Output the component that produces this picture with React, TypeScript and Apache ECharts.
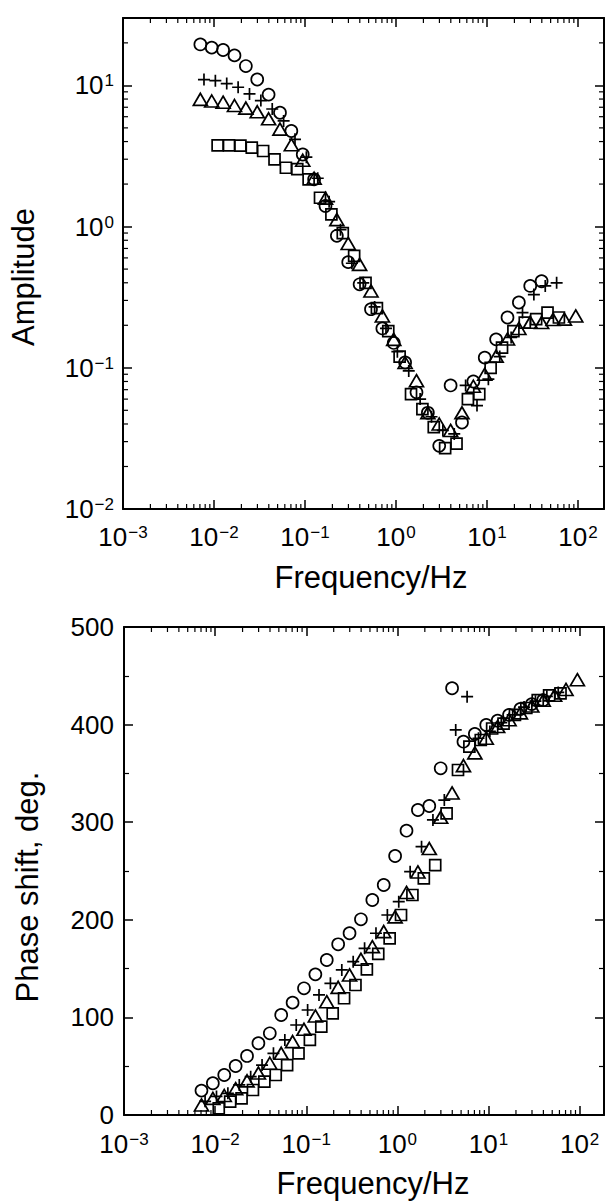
import React, { useEffect, useRef } from 'react';
import * as echarts from 'echarts';

// ---- Data ----
// frequency grids (Hz)
const freqCircle = [0.00708, 0.00944, 0.01259, 0.01679, 0.02239, 0.02985, 0.03981, 0.05309, 0.07079, 0.09441, 0.1259, 0.1679, 0.2239, 0.2985, 0.3981, 0.5309, 0.7079, 0.9441, 1.259, 1.679, 2.239, 2.985, 3.981, 5.309, 7.079, 9.441, 12.59, 16.79, 22.39, 29.85, 39.81, 53.09, 70.79, 94.41];
const freqPlus = [0.00776, 0.01035, 0.0138, 0.01841, 0.02455, 0.03273, 0.04365, 0.05821, 0.07762, 0.1035, 0.138, 0.1841, 0.2455, 0.3273, 0.4365, 0.5821, 0.7762, 1.035, 1.38, 1.841, 2.455, 3.273, 4.365, 5.821, 7.762, 10.35, 13.8, 18.41, 24.55, 32.73, 43.65, 58.21];
const freqSquare = [0.01096, 0.01462, 0.0195, 0.026, 0.03467, 0.04624, 0.06166, 0.08222, 0.1096, 0.1462, 0.195, 0.26, 0.3467, 0.4624, 0.6166, 0.8222, 1.096, 1.462, 1.95, 2.6, 3.467, 4.624, 6.166, 8.222, 10.96, 14.62, 19.5, 26.0, 34.67, 46.24, 61.66];

// amplitude
const ampCircle = [19.5, 18.5, 17.8, 16.3, 13.7, 11.0, 8.6, 6.4, 4.75, 3.24, 2.16, 1.4, 0.86, 0.56, 0.39, 0.26, 0.19, 0.15, 0.109, 0.067, 0.048, 0.028, 0.075, 0.041, 0.08, 0.118, 0.159, 0.227, 0.29, 0.38, 0.41];
const ampPlus = [11.0, 10.8, 10.3, 9.7, 8.7, 7.8, 6.8, 5.6, 4.15, 3.1, 2.2, 1.5, 0.95, 0.55, 0.4, 0.27, 0.19, 0.13, 0.095, 0.06, 0.045, 0.036, 0.034, 0.075, 0.054, 0.083, 0.12, 0.164, 0.246, 0.33, 0.38, 0.4];
const ampTriangle = [7.96, 7.75, 7.6, 7.2, 6.9, 6.5, 5.8, 4.9, 3.8, 2.95, 2.2, 1.59, 1.12, 0.76, 0.54, 0.35, 0.233, 0.159, 0.109, 0.081, 0.048, 0.04, 0.036, 0.048, 0.074, 0.09, 0.121, 0.16, 0.19, 0.21, 0.209, 0.22, 0.221, 0.233];
const ampSquare = [3.76, 3.76, 3.74, 3.62, 3.43, 2.99, 2.61, 2.55, 2.16, 1.6, 1.22, 0.9, 0.62, 0.4, 0.265, 0.182, 0.12, 0.065, 0.051, 0.038, 0.027, 0.029, 0.06, 0.065, 0.1, 0.139, 0.182, 0.209, 0.221, 0.246, 0.227];

// phase shift (deg.)
const phaseCircle = [25.0, 32.5, 41.0, 50.2, 60.5, 73.5, 83.7, 102.5, 115.1, 129.8, 144.1, 158.8, 174.9, 186.2, 200.5, 220.3, 235.7, 265.4, 291.3, 312.5, 316.6, 355.2, 437.2, 382.5, 390.4, 399.6, 404, 410, 416, 421, 425];
const phasePlus = [14, 19, 22.2, 30.8, 39.3, 51.2, 63.2, 76.9, 92.2, 107.6, 123, 134.9, 148.6, 157.1, 170.8, 186.2, 204.9, 218.6, 249.3, 274.9, 302.3, 322.7, 394.5, 428.6, 386, 393, 402, 410, 418, 424, 429, 433];
const phaseTriangle = [10.3, 17, 20, 27, 35, 43, 53, 63.2, 75.2, 87.8, 101.5, 116.1, 130.8, 143.5, 159.5, 172.5, 187.9, 203, 228, 249, 273, 305, 330, 358, 371, 386, 398, 405, 412, 419, 425, 430, 436, 446];
const phaseSquare = [6.8, 13.7, 17.1, 25.6, 34.2, 41.0, 51.2, 63.2, 76.9, 90.5, 104.2, 119.6, 133.2, 149.3, 165.0, 181.0, 204.9, 225.4, 242.5, 256.1, 309.1, 353.5, 377.4, 384.2, 396, 401, 410, 417, 425, 430, 432];

// axis ranges
const X_MIN = 0.001;
const X_MAX_TOP = 193;
const X_MAX_BOT = 185;
const AMP_MIN = 0.01;
const AMP_MAX = 30;
const PH_MIN = 0;
const PH_MAX = 500;
const PH_INTERVAL = 100;

const FONT = '"Liberation Sans", Arial, Helvetica, sans-serif';
const PLUS = 'path://M5,0L5,10M0,5L10,5';

function pairs(xs: number[], ys: number[]) {
  return ys.map((y, i) => [xs[i], y]);
}

function minorLog(lo: number, hi: number) {
  const out: number[] = [];
  for (let n = Math.floor(Math.log10(lo)); n <= Math.ceil(Math.log10(hi)); n++) {
    for (let m = 2; m <= 9; m++) {
      const v = m * Math.pow(10, n);
      if (v > lo && v < hi * 0.999) out.push(v);
    }
  }
  return out;
}

function supLabel(v: number) {
  const l = Math.log10(v);
  const n = Math.round(l);
  if (Math.abs(l - n) > 0.02) return '';
  const e = n < 0 ? '\u2212' + Math.abs(n) : String(n);
  return `{b|10}{s|${e}}`;
}

const rich = {
  b: { fontSize: 26, fontFamily: FONT, color: '#000' },
  s: { fontSize: 17, fontFamily: FONT, color: '#000', verticalAlign: 'top', lineHeight: 12, padding: [0, 0, 0, 1] },
};

const lineStyle = { show: true, onZero: false, lineStyle: { color: '#000', width: 2 } };
const tick = { show: true, inside: true, length: 9, lineStyle: { color: '#000', width: 1.5 } };

function markerSeries(name: string, data: number[][], symbol: any, size: any, xi: number, yi: number) {
  return {
    type: 'scatter',
    name,
    xAxisIndex: xi,
    yAxisIndex: yi,
    data,
    symbol,
    symbolSize: size,
    silent: true,
    itemStyle: { color: 'rgba(0,0,0,0)', borderColor: '#000', borderWidth: 1.7, opacity: 1 },
  };
}

function minorXSeries(vals: number[], xi: number, yi: number, yLo: number, yHi: number, yMid: number) {
  return {
    type: 'custom',
    xAxisIndex: xi,
    yAxisIndex: yi,
    silent: true,
    data: vals.map((v) => [v, yMid]),
    renderItem: (_p: any, api: any) => {
      const v = api.value(0);
      const b = api.coord([v, yLo]);
      const t = api.coord([v, yHi]);
      const st = { stroke: '#000', lineWidth: 1.2 };
      return {
        type: 'group',
        children: [
          { type: 'line', shape: { x1: b[0], y1: b[1], x2: b[0], y2: b[1] - 5 }, style: st },
          { type: 'line', shape: { x1: t[0], y1: t[1], x2: t[0], y2: t[1] + 5 }, style: st },
        ],
      };
    },
  };
}

function minorYSeries(vals: number[], xi: number, yi: number, xLo: number, xHi: number, xMid: number) {
  return {
    type: 'custom',
    xAxisIndex: xi,
    yAxisIndex: yi,
    silent: true,
    data: vals.map((v) => [xMid, v]),
    renderItem: (_p: any, api: any) => {
      const v = api.value(1);
      const l = api.coord([xLo, v]);
      const r = api.coord([xHi, v]);
      const st = { stroke: '#000', lineWidth: 1.2 };
      return {
        type: 'group',
        children: [
          { type: 'line', shape: { x1: l[0], y1: l[1], x2: l[0] + 5, y2: l[1] }, style: st },
          { type: 'line', shape: { x1: r[0], y1: r[1], x2: r[0] - 5, y2: r[1] }, style: st },
        ],
      };
    },
  };
}

export default function App() {
  const ref = useRef<HTMLDivElement>(null);

  useEffect(() => {
    document.body.style.margin = '0';
    if (!ref.current) return;
    const chart = echarts.init(ref.current, null, { renderer: 'svg' });

    const option: any = {
      animation: false,
      backgroundColor: '#fff',
      textStyle: { fontFamily: FONT },
      grid: [
        { left: 123, top: 18, width: 482, height: 491 },
        { left: 124, top: 627, width: 481, height: 488 },
      ],
      xAxis: [
        {
          gridIndex: 0, type: 'log', logBase: 10, position: 'bottom', min: X_MIN, max: X_MAX_TOP,
          axisLine: lineStyle, axisTick: tick, splitLine: { show: false },
          axisLabel: { formatter: supLabel, rich, margin: 15 },
        },
        {
          gridIndex: 0, type: 'log', logBase: 10, position: 'top', min: X_MIN, max: X_MAX_TOP,
          axisLine: lineStyle, axisTick: tick, splitLine: { show: false }, axisLabel: { show: false },
        },
        {
          gridIndex: 1, type: 'log', logBase: 10, position: 'bottom', min: X_MIN, max: X_MAX_BOT,
          axisLine: lineStyle, axisTick: tick, splitLine: { show: false },
          axisLabel: { formatter: supLabel, rich, margin: 16 },
        },
        {
          gridIndex: 1, type: 'log', logBase: 10, position: 'top', min: X_MIN, max: X_MAX_BOT,
          axisLine: lineStyle, axisTick: tick, splitLine: { show: false }, axisLabel: { show: false },
        },
      ],
      yAxis: [
        {
          gridIndex: 0, type: 'log', logBase: 10, position: 'left', min: AMP_MIN, max: AMP_MAX,
          axisLine: lineStyle, axisTick: tick, splitLine: { show: false },
          axisLabel: { formatter: supLabel, rich, margin: 9 },
        },
        {
          gridIndex: 0, type: 'log', logBase: 10, position: 'right', min: AMP_MIN, max: AMP_MAX,
          axisLine: lineStyle, axisTick: tick, splitLine: { show: false }, axisLabel: { show: false },
        },
        {
          gridIndex: 1, type: 'value', position: 'left', min: PH_MIN, max: PH_MAX, interval: PH_INTERVAL,
          axisLine: lineStyle, axisTick: tick, splitLine: { show: false },
          minorTick: { show: true, splitNumber: 2, length: 5, lineStyle: { color: '#000', width: 1.2 } },
          axisLabel: { fontSize: 26, lineHeight: 20, fontFamily: FONT, color: '#000', margin: 10 },
        },
        {
          gridIndex: 1, type: 'value', position: 'right', min: PH_MIN, max: PH_MAX, interval: PH_INTERVAL,
          axisLine: lineStyle, axisTick: tick, splitLine: { show: false },
          minorTick: { show: true, splitNumber: 2, length: 5, lineStyle: { color: '#000', width: 1.2 } },
          axisLabel: { show: false },
        },
      ],
      graphic: [
        {
          type: 'text', x: 371, y: 577,
          style: { text: 'Frequency/Hz', fontSize: 31, fontFamily: FONT, fill: '#000', align: 'center', verticalAlign: 'middle' },
        },
        {
          type: 'text', x: 373, y: 1183,
          style: { text: 'Frequency/Hz', fontSize: 31, fontFamily: FONT, fill: '#000', align: 'center', verticalAlign: 'middle' },
        },
        {
          type: 'text', x: 23, y: 277, rotation: Math.PI / 2,
          style: { text: 'Amplitude', fontSize: 31, fontFamily: FONT, fill: '#000', align: 'center', verticalAlign: 'middle' },
        },
        {
          type: 'text', x: 27, y: 887, rotation: Math.PI / 2,
          style: { text: 'Phase shift, deg.', fontSize: 31, fontFamily: FONT, fill: '#000', align: 'center', verticalAlign: 'middle' },
        },
      ],
      series: [
        minorXSeries(minorLog(X_MIN, X_MAX_TOP), 0, 0, AMP_MIN, AMP_MAX, 1),
        minorYSeries(minorLog(AMP_MIN, AMP_MAX), 0, 0, X_MIN, X_MAX_TOP, 1),
        minorXSeries(minorLog(X_MIN, X_MAX_BOT), 2, 2, PH_MIN, PH_MAX, 100),
        markerSeries('circle', pairs(freqCircle, ampCircle), 'circle', 12, 0, 0),
        markerSeries('plus', pairs(freqPlus, ampPlus), PLUS, 12, 0, 0),
        markerSeries('triangle', pairs(freqCircle, ampTriangle), 'triangle', [14, 12], 0, 0),
        markerSeries('square', pairs(freqSquare, ampSquare), 'rect', 11, 0, 0),
        markerSeries('circle', pairs(freqCircle, phaseCircle), 'circle', 12, 2, 2),
        markerSeries('plus', pairs(freqPlus, phasePlus), PLUS, 12, 2, 2),
        markerSeries('triangle', pairs(freqCircle, phaseTriangle), 'triangle', [14, 12], 2, 2),
        markerSeries('square', pairs(freqSquare, phaseSquare), 'rect', 11, 2, 2),
      ],
    };

    chart.setOption(option);
    return () => chart.dispose();
  }, []);

  return <div ref={ref} style={{ width: 607, height: 1201 }} />;
}
